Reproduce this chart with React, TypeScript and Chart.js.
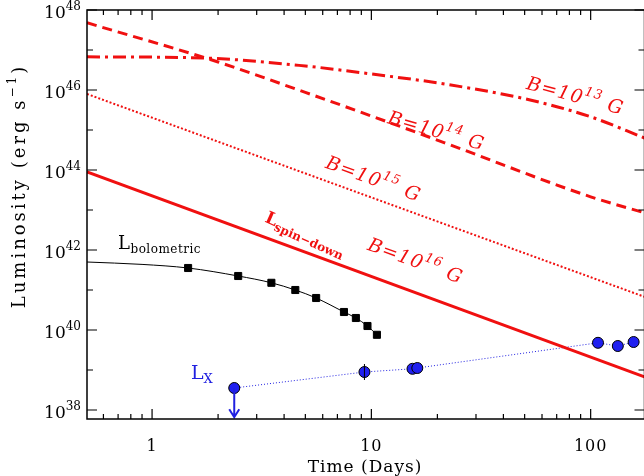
import { useEffect, useRef } from "react";
import { Chart, registerables } from "chart.js";

Chart.register(...registerables);

// log10 luminosity vs time (days)
const tMin = 0.505;
const tMax = 176;
const lMin = 37.775;
const lMax = 48;
const b16T = [0.505, 176];
const b16L = [43.95, 38.83];
const b15T = [0.505, 176];
const b15L = [45.9, 40.83];
const b14T = [0.505, 2, 5, 10, 21.6, 100, 176];
const b14L = [47.68, 46.7, 45.94, 45.35, 44.68, 43.33, 42.93];
const b13T = [0.505, 1.7, 5, 10, 21.6, 53, 100, 176];
const b13L = [46.83, 46.8, 46.6, 46.4, 46.15, 45.75, 45.33, 44.8];
const bolT = [0.505, 0.9, 1.46, 2.47, 3.5, 4.5, 5.6, 7.5, 8.5, 9.6, 10.6];
const bolL = [41.7, 41.64, 41.55, 41.35, 41.18, 41.0, 40.8, 40.45, 40.3, 40.1, 39.88];
const bolMarked = [false, false, true, true, true, true, true, true, true, true, true];
const lxT = [2.37, 9.3, 15.4, 16.2, 108, 133, 157];
const lxL = [38.55, 38.95, 39.03, 39.05, 39.68, 39.6, 39.7];
const yTickExp = [38, 40, 42, 44, 46, 48];
const xTicks = [1, 10, 100];

const pts = (t: number[], l: number[]) => t.map((x, i) => ({ x, y: Math.pow(10, l[i]) }));

type Seg = { s: string; sup?: boolean; sub?: boolean };
const SERIF = '"DejaVu Serif", "Liberation Serif", serif';

function drawSegs(ctx: CanvasRenderingContext2D, segs: Seg[], x: number, y: number, size: number, color: string, angle = 0, align: "left" | "center" | "right" = "left", style = "", spacing = 0) {
  ctx.save();
  ctx.translate(x, y);
  ctx.rotate((angle * Math.PI) / 180);
  ctx.fillStyle = color;
  ctx.textBaseline = "middle";
  ctx.textAlign = "left";
  (ctx as any).letterSpacing = `${spacing}px`;
  const fnt = (seg: Seg) => `${style}${seg.sup || seg.sub ? Math.round(size * 0.68) : size}px ${SERIF}`;
  let w = 0;
  for (const seg of segs) {
    ctx.font = fnt(seg);
    w += ctx.measureText(seg.s).width;
  }
  let cx = align === "left" ? 0 : align === "center" ? -w / 2 : -w;
  for (const seg of segs) {
    ctx.font = fnt(seg);
    const dy = seg.sup ? -size * 0.4 : seg.sub ? size * 0.3 : 0;
    ctx.fillText(seg.s, cx, dy);
    cx += ctx.measureText(seg.s).width;
  }
  ctx.restore();
}

const overlay = {
  id: "overlay",
  afterDatasetsDraw(chart: Chart) {
    const { ctx } = chart;
    const xs = chart.scales.x;
    const ys = chart.scales.y;
    ctx.save();
    ctx.strokeStyle = "#000";
    ctx.lineWidth = 1;
    const ex = xs.getPixelForValue(9.3);
    ctx.beginPath();
    ctx.moveTo(ex, ys.getPixelForValue(Math.pow(10, 39.15)));
    ctx.lineTo(ex, ys.getPixelForValue(Math.pow(10, 38.75)));
    ctx.stroke();
    const ax = xs.getPixelForValue(2.37);
    const ay0 = ys.getPixelForValue(Math.pow(10, 38.55));
    const ay1 = ys.getPixelForValue(Math.pow(10, 37.82));
    ctx.strokeStyle = "#2020e0";
    ctx.lineWidth = 2;
    ctx.beginPath();
    ctx.moveTo(ax, ay0);
    ctx.lineTo(ax, ay1);
    ctx.moveTo(ax - 5, ay1 - 8);
    ctx.lineTo(ax, ay1);
    ctx.lineTo(ax + 5, ay1 - 8);
    ctx.stroke();
    ctx.restore();
  },
  afterDraw(chart: Chart) {
    const { ctx, chartArea: a } = chart;
    const xs = chart.scales.x;
    const ys = chart.scales.y;
    ctx.save();
    ctx.strokeStyle = "#000";
    ctx.lineWidth = 1.5;
    ctx.strokeRect(a.left, a.top, a.right - a.left, a.bottom - a.top);
    ctx.lineWidth = 1.2;
    for (let e = 38; e <= 48; e++) {
      const y = ys.getPixelForValue(Math.pow(10, e));
      const len = e % 2 === 0 ? 10 : 6;
      ctx.beginPath();
      ctx.moveTo(a.left, y);
      ctx.lineTo(a.left + len, y);
      ctx.moveTo(a.right, y);
      ctx.lineTo(a.right - len, y);
      ctx.stroke();
    }
    for (let d = 0.1; d < 1000; d *= 10) {
      for (let m = 1; m < 10; m++) {
        const v = d * m;
        if (v < tMin || v > tMax) continue;
        const x = xs.getPixelForValue(v);
        const len = m === 1 ? 10 : 5;
        ctx.beginPath();
        ctx.moveTo(x, a.bottom);
        ctx.lineTo(x, a.bottom - len);
        ctx.moveTo(x, a.top);
        ctx.lineTo(x, a.top + len);
        ctx.stroke();
      }
    }
    ctx.restore();
    for (const e of yTickExp) {
      const y = ys.getPixelForValue(Math.pow(10, e));
      drawSegs(ctx, [{ s: "10" }, { s: String(e), sup: true }], a.left - 6, y + 4, 17, "#000", 0, "right");
    }
    for (const v of xTicks) {
      drawSegs(ctx, [{ s: String(v) }], xs.getPixelForValue(v), 447, 16, "#000", 0, "center", "", 1);
    }
    drawSegs(ctx, [{ s: "Time (Days)" }], 365, 468, 17, "#000", 0, "center", "", 1);
    drawSegs(ctx, [{ s: "Luminosity (erg s" }, { s: "−1", sup: true }, { s: ")" }], 20, 186, 18, "#000", -90, "center", "", 3);
    const red = "#f01010";
    drawSegs(ctx, [{ s: "B=10" }, { s: "13", sup: true }, { s: " G" }], 575, 97, 19, red, 15, "center", "italic ", 1);
    drawSegs(ctx, [{ s: "B=10" }, { s: "14", sup: true }, { s: " G" }], 436, 132, 19, red, 16, "center", "italic ", 1);
    drawSegs(ctx, [{ s: "B=10" }, { s: "15", sup: true }, { s: " G" }], 373, 180, 19, red, 20, "center", "italic ", 1);
    drawSegs(ctx, [{ s: "B=10" }, { s: "16", sup: true }, { s: " G" }], 415, 262, 19, red, 20, "center", "italic ", 1);
    drawSegs(ctx, [{ s: "L" }, { s: "spin−down", sub: true }], 305, 235, 17, red, 24, "center", "bold ");
    drawSegs(ctx, [{ s: "L" }, { s: "bolometric", sub: true }], 118, 244, 18, "#000", 0, "left", "", 0.5);
    drawSegs(ctx, [{ s: "L" }, { s: "X", sub: true }], 191, 374, 19, "#2020e0");
  },
};

const App = () => {
  const canvasRef = useRef<HTMLCanvasElement | null>(null);
  const chartRef = useRef<Chart | null>(null);

  useEffect(() => {
    document.body.style.margin = "0";
    if (!canvasRef.current) return;
    const ctx = canvasRef.current.getContext("2d");
    if (!ctx) return;
    if (chartRef.current) chartRef.current.destroy();
    const red = "#f01010";
    chartRef.current = new Chart(ctx, {
      type: "line",
      data: {
        datasets: [
          { data: pts(b16T, b16L), borderColor: red, borderWidth: 3, pointRadius: 0 },
          { data: pts(b15T, b15L), borderColor: red, borderWidth: 2, borderDash: [2, 2], pointRadius: 0 },
          { data: pts(b14T, b14L), borderColor: red, borderWidth: 3, borderDash: [10, 6], pointRadius: 0, cubicInterpolationMode: "monotone" },
          { data: pts(b13T, b13L), borderColor: red, borderWidth: 3, borderDash: [13, 5, 3, 5], pointRadius: 0, cubicInterpolationMode: "monotone" },
          {
            data: pts(bolT, bolL),
            borderColor: "#000",
            borderWidth: 1,
            backgroundColor: "#000",
            pointStyle: "rect",
            pointRadius: bolMarked.map((m) => (m ? 5 : 0)),
            cubicInterpolationMode: "monotone",
          },
          {
            data: pts(lxT, lxL),
            borderColor: "#2020e0",
            borderWidth: 1,
            borderDash: [1, 2],
            backgroundColor: "#2020f0",
            pointBorderColor: "#000",
            pointRadius: 5.5,
            pointBorderWidth: 1,
          },
        ],
      },
      options: {
        responsive: false,
        animation: false,
        layout: { padding: { top: 10, right: 0, left: 0, bottom: 0 } },
        plugins: { legend: { display: false }, tooltip: { enabled: false } },
        scales: {
          x: {
            type: "logarithmic",
            min: tMin,
            max: tMax,
            grid: { display: false },
            border: { display: false },
            ticks: { display: false },
            afterFit: (s: any) => { s.height = 57; },
          },
          y: {
            type: "logarithmic",
            min: Math.pow(10, lMin),
            max: Math.pow(10, lMax),
            grid: { display: false },
            border: { display: false },
            ticks: { display: false },
            afterFit: (s: any) => { s.width = 87; },
          },
        },
      },
      plugins: [overlay],
    });
    return () => {
      if (chartRef.current) {
        chartRef.current.destroy();
        chartRef.current = null;
      }
    };
  }, []);

  return (
    <div style={{ width: 644, height: 476, overflow: "hidden", background: "#fff" }}>
      <canvas ref={canvasRef} width={651} height={476} style={{ display: "block" }} />
    </div>
  );
};

export default App;
